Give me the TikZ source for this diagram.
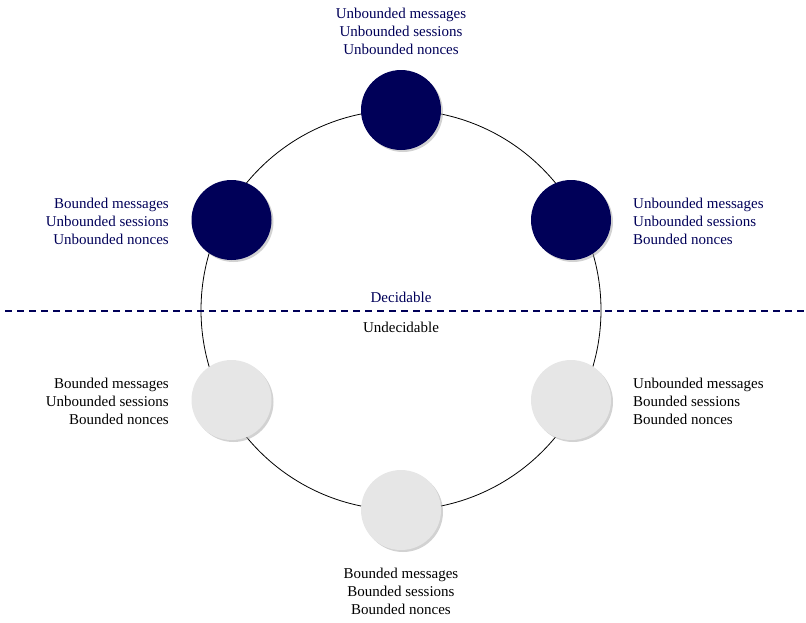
\documentclass[tikz,border=0pt]{standalone}
\usepackage{fontspec}
\setmainfont{Liberation Serif}
\usepackage{tikz}
\usetikzlibrary{shadows}
\definecolor{DBlue}{RGB}{0,0,88}
\definecolor{PaleGray}{RGB}{230,230,230}

\tikzset{
  dotnode/.style = {circle, minimum size=80pt, inner sep=0pt,
    drop shadow={shadow xshift=2pt, shadow yshift=-2pt, fill=black!35}},
  decnode/.style = {dotnode, fill=DBlue},
  undnode/.style = {dotnode, fill=PaleGray},
  lbl/.style = {inner sep=0pt, font=\fontsize{15}{18}\selectfont}
}

\begin{document}
\begin{tikzpicture}[x=1pt, y=-1pt]
\useasboundingbox (0,0) rectangle (806,622);

\draw[line width=0.8pt] (401,310) circle (200pt);

\draw[DBlue, line width=2pt, dash pattern=on 7pt off 5pt] (5,311) -- (806,311);

\node[decnode] (top) at (401,110) {};
\node[decnode] (upleft) at (231.5,220) {};
\node[decnode] (upright) at (571,220) {};
\node[undnode] (lowleft) at (231.5,400) {};
\node[undnode] (lowright) at (571,400) {};
\node[undnode] (bottom) at (401,510) {};

\node[lbl, DBlue, align=center] (toptext) at (401,31.5) {Unbounded messages\\Unbounded sessions\\Unbounded nonces};
\node[lbl, DBlue, align=right, anchor=east] (uplefttext) at (169,221.5) {Bounded messages\\Unbounded sessions\\Unbounded nonces};
\node[lbl, DBlue, align=left, anchor=west] (uprighttext) at (633,221.5) {Unbounded messages\\Unbounded sessions\\Bounded nonces};
\node[lbl, align=right, anchor=east] (lowlefttext) at (169,401.5) {Bounded messages\\Unbounded sessions\\Bounded nonces};
\node[lbl, align=left, anchor=west] (lowrighttext) at (633,401.5) {Unbounded messages\\Bounded sessions\\Bounded nonces};
\node[lbl, align=center] (bottomtext) at (401,591.5) {Bounded messages\\Bounded sessions\\Bounded nonces};

\node[lbl, DBlue] (dec) at (401,297) {Decidable};
\node[lbl] (undec) at (401,327) {Undecidable};

\end{tikzpicture}
\end{document}
